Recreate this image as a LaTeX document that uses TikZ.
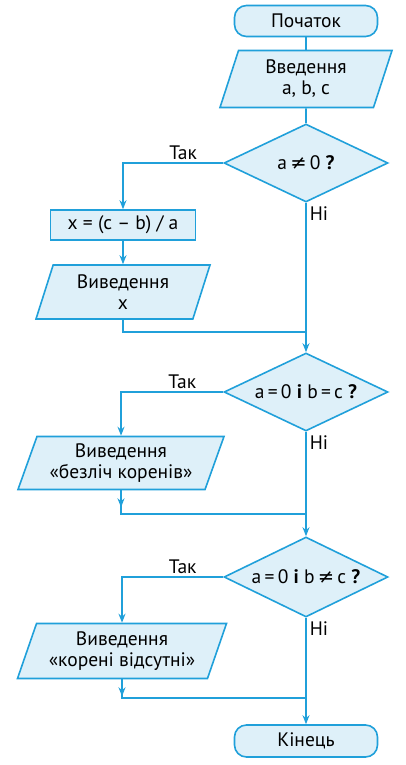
\documentclass[tikz,border=0pt]{standalone}
\usepackage{fontspec}
\setmainfont{PT Sans}
\newfontfamily\symfont{DejaVu Sans}
\usetikzlibrary{shapes.geometric,arrows.meta}
\definecolor{flowline}{RGB}{32,160,218}
\definecolor{flowfill}{RGB}{222,240,249}

\begin{document}
\begin{tikzpicture}[x=1pt,y=-1pt,
    every node/.style={font=\fontsize{19.5}{21}\selectfont},
    block/.style={draw=flowline, fill=flowfill, line width=1.6pt},
    terminal/.style={block, rounded corners=12pt, minimum width=143pt, minimum height=31pt},
    process/.style={block, minimum width=145pt, minimum height=30pt},
    io/.style={block, trapezium, trapezium left angle=65, trapezium right angle=115,
      trapezium stretches body, align=center, inner sep=1pt},
    decision/.style={block, diamond, minimum width=164pt, minimum height=78pt, inner sep=0pt},
    flow/.style={flowline, line width=1.6pt},
    arrow/.style={flow, -{Stealth[length=9pt,width=7pt]}},
    yes/.style={above, inner sep=3pt, black},
    no/.style={anchor=north west, inner sep=3pt, black}]
  \useasboundingbox (0,0) rectangle (406,765);

  \node[terminal] (start) at (306,21) {Початок};
  \node[io, minimum width=172pt, minimum height=57pt] (in1) at (306,79) {Введення\\a, b, c};
  \node[decision, label=center:{a\,{\symfont≠}\,0 \textbf{?}}] (d1) at (306,163) {};
  \node[process] (calc) at (123,225) {x = (c – b) / a};
  \node[io, minimum width=174pt, minimum height=54pt] (out1) at (123,292) {Виведення\\x};
  \node[decision, label=center:{a\,=\,0 \textbf{і} b\,=\,c \textbf{?}}] (d2) at (306,392) {};
  \node[io, minimum width=206pt, minimum height=53pt] (out2) at (121,463) {Виведення\\«безліч коренів»};
  \node[decision, minimum height=80pt, label=center:{a\,=\,0 \textbf{і} b\,{\symfont≠}\,c \textbf{?}}] (d3) at (306,577) {};
  \node[io, minimum width=209pt, minimum height=55pt] (out3) at (122,651) {Виведення\\«корені відсутні»};
  \node[terminal, minimum height=32pt] (end) at (306,741) {Кінець};

  \coordinate (j1) at (306,332);
  \coordinate (j2) at (306,514);
  \coordinate (j3) at (306,698);

  \draw[flow] (start) -- (in1);
  \draw[flow] (in1) -- (d1);
  \draw[arrow] (d1.west) -| node[yes, pos=0.2] (yes1) {Так} (calc.north);
  \draw[arrow] (calc) -- (out1);
  \draw[flow] (out1.south) |- (j1);
  \draw[flow] (d1.south) -- node[no, at start] (no1) {Ні} (j1);
  \draw[arrow] (j1) -- (d2.north);

  \draw[arrow] (d2.west) -| node[yes, pos=0.2] (yes2) {Так} (out2.north);
  \draw[flow] (out2.south) |- (j2);
  \draw[arrow] (out2.south) -- ++(0,17);
  \draw[flow] (d2.south) -- node[no, at start] (no2) {Ні} (j2);
  \draw[arrow] (j2) -- (d3.north);

  \draw[arrow] (d3.west) -| node[yes, pos=0.2] (yes3) {Так} (out3.north);
  \draw[flow] (out3.south) |- (j3);
  \draw[arrow] (out3.south) -- ++(0,17);
  \draw[flow] (d3.south) -- node[no, at start] (no3) {Ні} (j3);
  \draw[arrow] (j3) -- (end);
\end{tikzpicture}
\end{document}
